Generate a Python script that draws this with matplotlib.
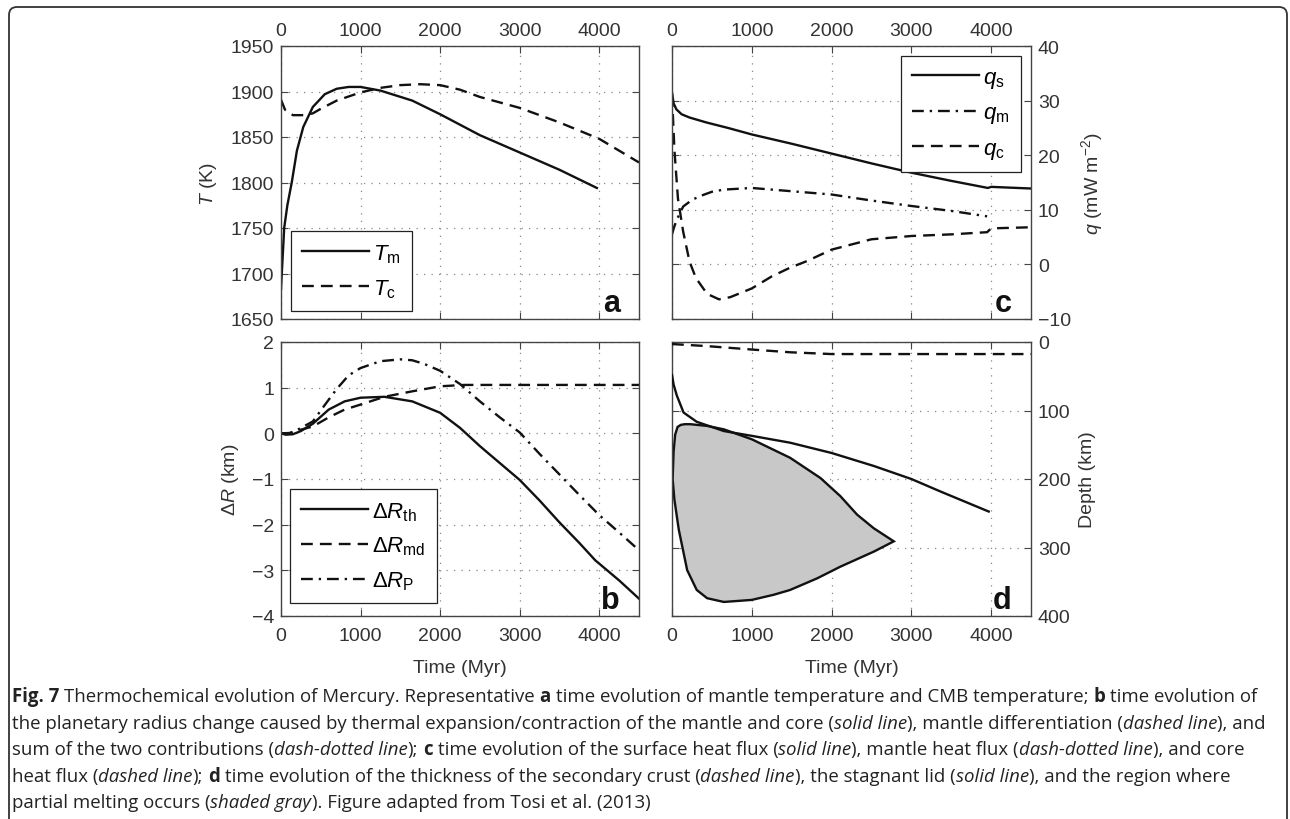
import numpy as np
import matplotlib
matplotlib.use('Agg')
import matplotlib.pyplot as plt
from matplotlib.patches import FancyBboxPatch
from matplotlib.transforms import IdentityTransform

# ---------------- data ----------------
time_ticks = [0, 1000, 2000, 3000, 4000]

# (a) mantle / CMB temperature (K)
t_Tm = [0, 10, 40, 80, 135, 200, 280, 400, 550, 700, 850, 1000, 1250, 1650, 2000, 2500, 3000, 3500, 3970]
T_m = [1683, 1700, 1750, 1775, 1800, 1835, 1861, 1883, 1897, 1903, 1905, 1905, 1901, 1890, 1875, 1852, 1833, 1814, 1794]
t_Tc = [0, 50, 150, 300, 400, 500, 700, 1000, 1250, 1500, 1750, 2000, 2250, 2500, 3000, 3500, 4000, 4500]
T_c = [1891, 1880, 1874, 1874, 1876, 1881, 1890, 1899, 1904, 1907, 1908, 1907, 1902, 1894, 1882, 1866, 1848, 1822]

# (b) radius change (km)
t_th = [0, 60, 150, 250, 400, 600, 800, 1000, 1300, 1650, 2000, 2250, 2500, 2750, 3000, 3250, 3500, 3750, 3950, 4250, 4500]
dR_th = [0, -0.03, -0.02, 0.05, 0.21, 0.52, 0.70, 0.78, 0.80, 0.70, 0.45, 0.12, -0.28, -0.65, -1.02, -1.47, -1.95, -2.40, -2.78, -3.22, -3.62]
t_md = [0, 150, 250, 400, 600, 800, 1000, 1300, 1650, 2000, 2300, 4500]
dR_md = [0, 0.01, 0.08, 0.15, 0.35, 0.52, 0.63, 0.80, 0.92, 1.03, 1.06, 1.06]
t_P = [0, 100, 200, 400, 550, 700, 850, 1000, 1250, 1500, 1650, 1800, 2000, 2250, 2500, 2750, 3000, 3250, 3500, 3750, 4000, 4250, 4500]
dR_P = [0, 0.0, 0.07, 0.26, 0.62, 0.97, 1.27, 1.43, 1.58, 1.62, 1.60, 1.52, 1.37, 1.08, 0.70, 0.35, 0.02, -0.45, -0.90, -1.35, -1.79, -2.17, -2.56]

# (c) heat fluxes (mW m^-2)
t_qs = [0, 20, 55, 120, 220, 430, 700, 1000, 1500, 2000, 2500, 3000, 3500, 3960, 4000, 4500]
q_s = [31.5, 29.5, 28.4, 27.5, 26.9, 26.0, 25.0, 23.8, 22.1, 20.3, 18.5, 16.8, 15.3, 14.0, 14.2, 13.9]
t_qm = [0, 30, 70, 140, 250, 350, 500, 650, 1000, 1500, 2000, 2500, 3000, 3500, 3950]
q_m = [5.5, 7.0, 8.5, 10.6, 11.8, 12.5, 13.3, 13.7, 14.0, 13.4, 12.8, 11.7, 10.7, 9.8, 8.8]
t_qc = [0, 30, 75, 140, 220, 300, 440, 590, 730, 1000, 1250, 1480, 1690, 2000, 2500, 3000, 3500, 3950, 4000, 4500]
q_c = [31, 21, 12, 6, 0.5, -2.5, -5.4, -6.4, -6.0, -4.4, -2.2, -0.6, 0.6, 2.7, 4.6, 5.2, 5.5, 5.9, 6.6, 6.8]

# (d) depths (km)
t_crust = [0, 150, 440, 1000, 1480, 2000, 4500]
d_crust = [3, 4, 6, 11, 15, 17.6, 17.6]
t_lid = [0, 20, 60, 145, 310, 650, 1000, 1480, 2000, 2530, 3000, 3360, 3970]
d_lid = [48, 62, 78, 103, 116.5, 130, 137, 147, 162, 181, 200, 218, 247.5]
t_melt = [8, 20, 40, 70, 110, 160, 230, 440, 650, 1000, 1480, 1860, 2110, 2320, 2530, 2780,
          2530, 2110, 1820, 1480, 1275, 1000, 650, 440, 310, 190, 85, 30, 8]
d_melt = [200, 160, 135, 124, 121, 120, 120, 122.5, 127.5, 142, 169, 198.5, 225, 252, 272, 291,
          306, 328, 345, 362, 369, 376.5, 379.5, 374, 362, 333, 274, 230, 200]

# ---------------- style ----------------
plt.rcParams['font.family'] = ['Liberation Sans', 'DejaVu Sans']
plt.rcParams['mathtext.fontset'] = 'custom'
plt.rcParams['mathtext.rm'] = 'Liberation Sans'
plt.rcParams['mathtext.it'] = 'Liberation Sans:italic'
plt.rcParams['mathtext.bf'] = 'Liberation Sans:bold'

W, H = 1290, 820
fig = plt.figure(figsize=(W / 100, H / 100), dpi=100)


def box(l, t, r, b):
    return [l / W, 1 - b / H, (r - l) / W, (b - t) / H]


ax_a = fig.add_axes(box(281, 47, 639, 320))
ax_b = fig.add_axes(box(281, 343, 639, 617))
ax_c = fig.add_axes(box(672, 47, 1031, 320))
ax_d = fig.add_axes(box(672, 343, 1031, 617))

LW = 1.7
DASH = (0, (5, 3))
DASHDOT = (0, (5, 2.5, 1, 2.5))
K = '#111111'


def style(ax, top, right):
    ax.set_xlim(0, 4500)
    ax.set_xticks(time_ticks)
    ax.grid(True, linestyle=(0, (1, 5)), color='#888888', lw=0.9)
    ax.set_axisbelow(True)
    ax.tick_params(direction='in', length=5, width=0.8, color='#444444',
                   labelsize=14, labelcolor='#333333', pad=5,
                   top=True, bottom=True, left=True, right=True,
                   labeltop=top, labelbottom=not top,
                   labelleft=not right, labelright=right)
    for s in ax.spines.values():
        s.set_color('#444444')
        s.set_linewidth(1.0)
    if not top:
        ax.tick_params(axis='x', pad=8)
        ax.set_xlabel('Time (Myr)', fontsize=14, color='#333333', labelpad=11)
    if right:
        ax.yaxis.set_label_position('right')


def leg(ax, loc, anchor):
    lg = ax.legend(loc=loc, bbox_to_anchor=anchor, fontsize=16, frameon=True,
                   fancybox=False, framealpha=1, edgecolor='#222222',
                   handlelength=3.0, handletextpad=0.2, labelspacing=0.55,
                   borderpad=0.5, borderaxespad=0)
    lg.get_frame().set_linewidth(0.9)


# (a)
style(ax_a, top=True, right=False)
ax_a.plot(t_Tm, T_m, color=K, lw=LW, label=r'$T_\mathrm{m}$')
ax_a.plot(t_Tc, T_c, color=K, lw=LW, ls=DASH, label=r'$T_\mathrm{c}$')
ax_a.set_ylim(1650, 1950)
ax_a.set_ylabel(r'$T$ (K)', fontsize=14, color='#333333', labelpad=8)
leg(ax_a, 'upper left', (0.028, 0.322))

# (b)
style(ax_b, top=False, right=False)
ax_b.plot(t_th, dR_th, color=K, lw=LW, label=r'$\Delta R_\mathrm{th}$')
ax_b.plot(t_md, dR_md, color=K, lw=LW, ls=DASH, label=r'$\Delta R_\mathrm{md}$')
ax_b.plot(t_P, dR_P, color=K, lw=LW, ls=DASHDOT, label=r'$\Delta R_\mathrm{P}$')
ax_b.set_ylim(-4, 2)
ax_b.set_yticks([-4, -3, -2, -1, 0, 1, 2])
ax_b.set_ylabel(r'$\Delta R$ (km)', fontsize=14, color='#333333', labelpad=8)
leg(ax_b, 'upper left', (0.025, 0.464))

# (c)
style(ax_c, top=True, right=True)
ax_c.plot(t_qs, q_s, color=K, lw=LW, label=r'$q_\mathrm{s}$')
ax_c.plot(t_qm, q_m, color=K, lw=LW, ls=DASHDOT, label=r'$q_\mathrm{m}$')
ax_c.plot(t_qc, q_c, color=K, lw=LW, ls=DASH, label=r'$q_\mathrm{c}$')
ax_c.set_ylim(-10, 40)
ax_c.set_ylabel(r'$q$ (mW m$^{-2}$)', fontsize=14, color='#333333', labelpad=6)
leg(ax_c, 'upper right', (0.972, 0.963))

# (d)
style(ax_d, top=False, right=True)
ax_d.fill(t_melt, d_melt, facecolor='#c8c8c8', edgecolor=K, lw=LW, zorder=2)
ax_d.plot(t_lid, d_lid, color=K, lw=LW, zorder=3)
ax_d.plot(t_crust, d_crust, color=K, lw=LW, ls=DASH, zorder=3)
ax_d.set_ylim(400, 0)
ax_d.set_yticks([0, 100, 200, 300, 400])
ax_d.set_ylabel('Depth (km)', fontsize=14, color='#333333', labelpad=6)

for ax, lab in [(ax_a, 'a'), (ax_b, 'b'), (ax_c, 'c'), (ax_d, 'd')]:
    ax.text(0.947, 0.03, lab, transform=ax.transAxes, ha='right', va='baseline',
            fontsize=22, fontweight='bold', color=K, zorder=5)

# outer rounded frame
frame = FancyBboxPatch((9, -40), 1278, 852, boxstyle='round,pad=0,rounding_size=8',
                       transform=IdentityTransform(), facecolor='none',
                       edgecolor='#333333', lw=1.3)
fig.add_artist(frame)

# ---------------- caption ----------------
N, B, I = 'normal', 'bold', 'italic'
cap_lines = [
    [("Fig. 7", B), (" Thermochemical evolution of Mercury. Representative ", N), ("a", B),
     (" time evolution of mantle temperature and CMB temperature; ", N), ("b", B), (" time evolution of", N)],
    [("the planetary radius change caused by thermal expansion/contraction of the mantle and core (", N),
     ("solid line", I), ("), mantle differentiation (", N), ("dashed line", I), ("), and", N)],
    [("sum of the two contributions (", N), ("dash-dotted line", I), ("); ", N), ("c", B),
     (" time evolution of the surface heat flux (", N), ("solid line", I), ("), mantle heat flux (", N),
     ("dash-dotted line", I), ("), and core", N)],
    [("heat flux (", N), ("dashed line", I), ("); ", N), ("d", B),
     (" time evolution of the thickness of the secondary crust (", N), ("dashed line", I),
     ("), the stagnant lid (", N), ("solid line", I), ("), and the region where", N)],
    [("partial melting occurs (", N), ("shaded gray", I), ("). Figure adapted from Tosi et al. (2013)", N)],
]
cap_font = ['Open Sans', 'DejaVu Sans']
cap_color = '#222222'
renderer = fig.canvas.get_renderer()


def piece(x, y, s, kind, size, draw=True):
    kw = dict(fontsize=size, family=cap_font, color=cap_color, va='baseline', ha='left',
              transform=IdentityTransform())
    if kind == B:
        kw['fontweight'] = 'bold'
    if kind == I:
        kw['fontstyle'] = 'italic'
    t = fig.text(x, y, s, **kw)
    w = t.get_window_extent(renderer).width
    if not draw:
        t.remove()
    return w


def space_w(size):
    return piece(0, 0, 'x x', N, size, False) - piece(0, 0, 'xx', N, size, False)


def draw_line(segs, x0, y, size, draw=True):
    sp = space_w(size)
    x = x0
    for s, kind in segs:
        lead = len(s) - len(s.lstrip(' '))
        trail = len(s) - len(s.rstrip(' '))
        x += lead * sp
        core = s.strip(' ')
        if core:
            x += piece(x, y, core, kind, size, draw)
        x += trail * sp
    return x - x0


size0 = 12.0
w_max = max(draw_line(segs, 0, 0, size0, draw=False) for segs in cap_lines)
cap_size = size0 * 1250 / w_max
baselines = [702, 729, 755, 782, 808]
for segs, yb in zip(cap_lines, baselines):
    draw_line(segs, 12, H - yb, cap_size)

fig.savefig('out.png', dpi=100)
